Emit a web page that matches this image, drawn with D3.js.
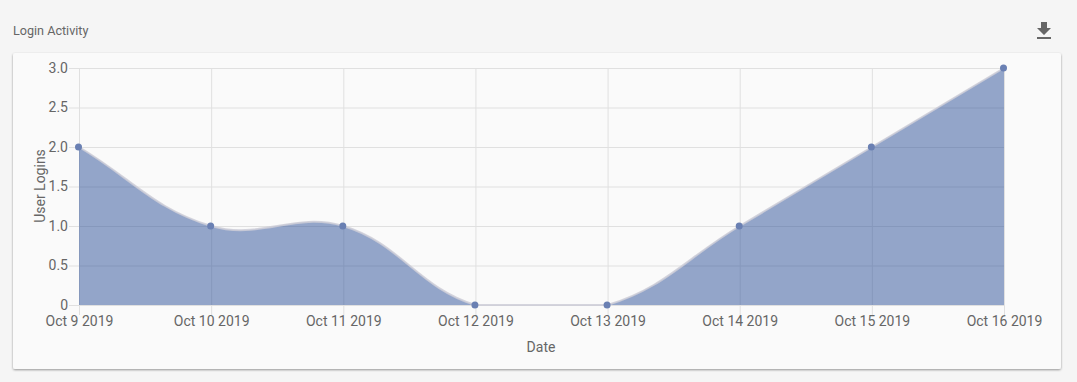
<!DOCTYPE html>
<html>
<head>
<meta charset="utf-8">
<script src="https://cdn.jsdelivr.net/npm/d3@7"></script>
<style>
  html, body { margin: 0; padding: 0; background: #f5f5f5; overflow: hidden; }
  svg { display: block; font-family: Roboto, sans-serif; }
  .axis text { fill: #666; font-size: 14px; font-family: Roboto, sans-serif; }
  .axis .domain { display: none; }
  .axis line { stroke: #e0e0e0; }
</style>
</head>
<body>
<svg id="chart" width="1077" height="382"></svg>
<script>
const dates = ['Oct 9 2019', 'Oct 10 2019', 'Oct 11 2019', 'Oct 12 2019', 'Oct 13 2019', 'Oct 14 2019', 'Oct 15 2019', 'Oct 16 2019'];
const logins = [2, 1, 1, 0, 0, 1, 2, 3];
const yTicks = [0, 0.5, 1, 1.5, 2, 2.5, 3];

const plotLeft = 79, plotRight = 1004, plotTop = 68, plotBottom = 305;
const svg = d3.select('#chart');

const x = d3.scalePoint().domain(dates).range([plotLeft, plotRight]);
const y = d3.scaleLinear().domain([0, 3]).range([plotBottom, plotTop]);

// card
const shadow = svg.append('defs').append('filter').attr('id', 'card-shadow')
  .attr('x', '-2%').attr('y', '-2%').attr('width', '104%').attr('height', '105%');
shadow.append('feDropShadow')
  .attr('dx', 0).attr('dy', 1).attr('stdDeviation', 1)
  .attr('flood-color', '#000').attr('flood-opacity', 0.4);

svg.append('rect')
  .attr('x', 13).attr('y', 53).attr('width', 1048).attr('height', 316)
  .attr('rx', 2).attr('fill', '#fafafa')
  .attr('filter', 'url(#card-shadow)');

// header
svg.append('text')
  .attr('x', 13).attr('y', 35)
  .attr('font-size', 12.6).attr('fill', '#666')
  .text('Login Activity');

svg.append('path')
  .attr('transform', 'translate(1032,19)')
  .attr('d', 'M19 9h-4V3H9v6H5l7 7 7-7zM5 18v2h14v-2H5z')
  .attr('fill', '#666');

// axes and grid
const yGroup = svg.append('g').attr('class', 'axis y-axis')
  .attr('transform', `translate(${plotLeft},0)`);
yGroup.call(d3.axisLeft(y)
  .tickValues(yTicks)
  .tickSize(10)
  .tickPadding(1)
  .tickFormat(d => d === 0 ? '0' : d3.format('.1f')(d)));
yGroup.selectAll('.tick').append('line')
  .attr('x1', 0).attr('x2', plotRight - plotLeft);

const xGroup = svg.append('g').attr('class', 'axis x-axis')
  .attr('transform', `translate(0,${plotBottom})`);
xGroup.call(d3.axisBottom(x).tickSize(10).tickPadding(1));
xGroup.selectAll('.tick').append('line')
  .attr('y1', 0).attr('y2', plotTop - plotBottom);

// Bezier spline with tension 0.4, control points capped to the plot area
function splinePath(pts, tension = 0.4) {
  const controls = pts.map((cur, i) => {
    const prev = pts[i - 1] || cur;
    const next = pts[i + 1] || cur;
    const d01 = Math.hypot(cur[0] - prev[0], cur[1] - prev[1]);
    const d12 = Math.hypot(next[0] - cur[0], next[1] - cur[1]);
    const sum = (d01 + d12) || 1;
    const dx = next[0] - prev[0];
    const dy = next[1] - prev[1];
    const capY = v => Math.max(plotTop, Math.min(plotBottom, v));
    return {
      before: [cur[0] - tension * d01 / sum * dx, capY(cur[1] - tension * d01 / sum * dy)],
      after: [cur[0] + tension * d12 / sum * dx, capY(cur[1] + tension * d12 / sum * dy)]
    };
  });
  const p = d3.path();
  p.moveTo(pts[0][0], pts[0][1]);
  for (let i = 1; i < pts.length; i++) {
    const c1 = controls[i - 1].after;
    const c2 = controls[i].before;
    p.bezierCurveTo(c1[0], c1[1], c2[0], c2[1], pts[i][0], pts[i][1]);
  }
  return p.toString();
}

const points = dates.map((d, i) => [x(d), y(logins[i])]);
const linePath = splinePath(points);

svg.append('path')
  .attr('d', `${linePath}L${x(dates[dates.length - 1])},${y(0)}L${x(dates[0])},${y(0)}Z`)
  .attr('fill', 'rgba(52,86,156,0.52)');

svg.append('path')
  .attr('d', linePath)
  .attr('fill', 'none')
  .attr('stroke', 'rgba(205,205,215,0.85)')
  .attr('stroke-width', 2);

svg.append('g')
  .selectAll('circle')
  .data(dates)
  .enter()
  .append('circle')
  .attr('cx', d => x(d) - 0.5)
  .attr('cy', (d, i) => y(logins[i]))
  .attr('r', 3.5)
  .attr('fill', '#6a80b3');

// axis titles
svg.append('text')
  .attr('x', 541).attr('y', 352)
  .attr('text-anchor', 'middle')
  .attr('font-size', 14).attr('fill', '#666')
  .text('Date');

svg.append('text')
  .attr('transform', 'translate(45,186) rotate(-90)')
  .attr('text-anchor', 'middle')
  .attr('font-size', 14).attr('fill', '#666')
  .text('User Logins');
</script>
</body>
</html>
